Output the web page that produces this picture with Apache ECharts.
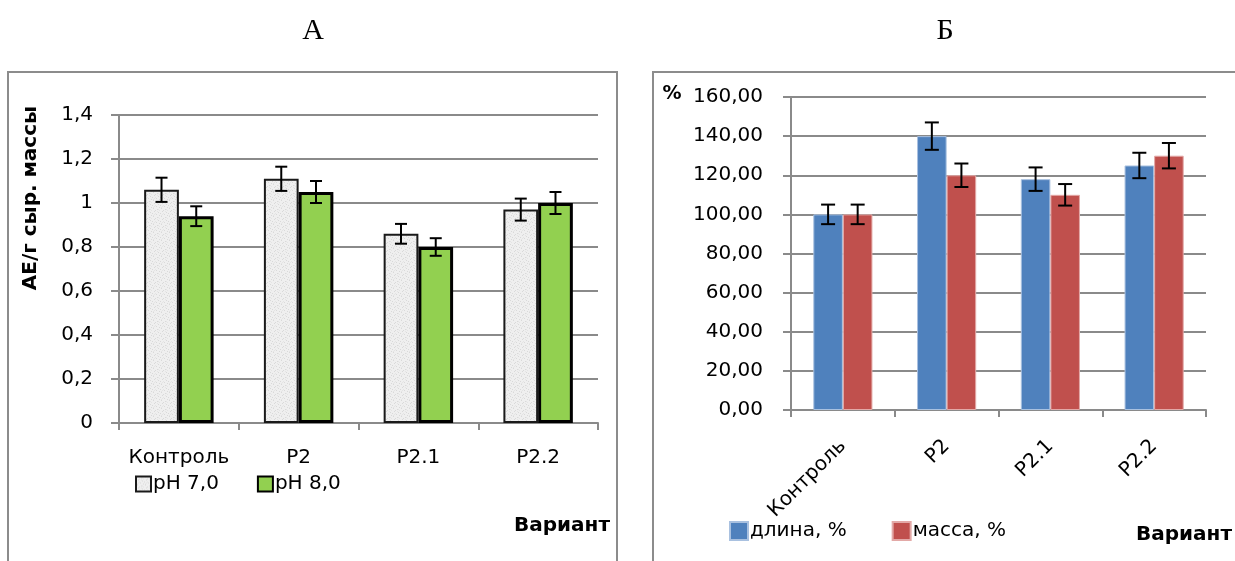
<!DOCTYPE html>
<html>
<head>
<meta charset="utf-8">
<script src="https://cdn.jsdelivr.net/npm/echarts@6/dist/echarts.min.js"></script>
<style>
  html, body { margin: 0; padding: 0; background: #fff; }
  #chart { width: 1235px; height: 561px; }
</style>
</head>
<body>
<div id="chart"></div>
<script>
// Panel A: enzyme activity per gram of raw mass at two pH values
const categoriesA = ['Контроль', 'P2', 'P2.1', 'P2.2'];
const ph7Values = [1.06, 1.11, 0.86, 0.97];
const ph7Errors = [0.055, 0.055, 0.045, 0.05];
const ph8Values = [0.94, 1.05, 0.80, 1.00];
const ph8Errors = [0.045, 0.05, 0.04, 0.05];
const seriesNamesA = ['pH 7,0', 'pH 8,0'];

// Panel B: seedling length and mass relative to control, %
const categoriesB = ['Контроль', 'P2', 'P2.1', 'P2.2'];
const lengthValues = [100, 140, 118, 125];
const lengthErrors = [5, 7, 6, 6.5];
const massValues = [100, 120, 110, 130];
const massErrors = [5, 6, 5.5, 6.5];
const seriesNamesB = ['длина, %', 'масса, %'];

const FONT = '"DejaVu Sans", "Open Sans", sans-serif';

// light mottled fill for the pH 7,0 bars
function mottledPattern() {
  const c = document.createElement('canvas');
  c.width = 8; c.height = 8;
  const g = c.getContext('2d');
  g.fillStyle = '#efefef';
  g.fillRect(0, 0, 8, 8);
  g.fillStyle = '#d9d9d9';
  const dots = [[1,0],[5,1],[2,3],[6,4],[0,5],[4,6],[7,7],[3,2]];
  dots.forEach(([x, y]) => g.fillRect(x, y, 1, 1));
  g.fillStyle = '#e4e4e4';
  [[3,5],[6,1],[1,7],[5,3],[7,2],[2,6]].forEach(([x, y]) => g.fillRect(x, y, 1, 1));
  return c;
}

// error bar drawn at the centre of a grouped bar
function errorBars(values, errors, xAxisIndex, yAxisIndex, groupIndex, gapRatio, capHalf, lineW) {
  return {
    type: 'custom',
    xAxisIndex, yAxisIndex,
    silent: true,
    z: 10,
    data: values.map((v, i) => [i, v - errors[i], v + errors[i]]),
    renderItem(params, api) {
      const band = api.size([1, 0])[0];
      const barW = band * (1 - gapRatio) / 2;
      const off = (groupIndex - 0.5) * barW;
      const lo = api.coord([api.value(0), api.value(1)]);
      const hi = api.coord([api.value(0), api.value(2)]);
      const x = lo[0] + off;
      const st = { stroke: '#000', lineWidth: lineW };
      return {
        type: 'group',
        children: [
          { type: 'line', shape: { x1: x, y1: lo[1], x2: x, y2: hi[1] }, style: st },
          { type: 'line', shape: { x1: x - capHalf, y1: lo[1], x2: x + capHalf, y2: lo[1] }, style: st },
          { type: 'line', shape: { x1: x - capHalf, y1: hi[1], x2: x + capHalf, y2: hi[1] }, style: st }
        ]
      };
    }
  };
}

const gridLine = { lineStyle: { color: '#8a8a8a', width: 2 } };
const axisLine = { lineStyle: { color: '#8a8a8a', width: 2 } };

const chart = echarts.init(document.getElementById('chart'), null, { renderer: 'canvas' });

const option = {
  animation: false,
  textStyle: { fontFamily: FONT },
  graphic: [
    { type: 'rect', shape: { x: 8, y: 72, width: 609, height: 520 }, style: { fill: 'none', stroke: '#8c8c8c', lineWidth: 2 }, z: -1 },
    { type: 'rect', shape: { x: 653, y: 72, width: 620, height: 520 }, style: { fill: 'none', stroke: '#8c8c8c', lineWidth: 2 }, z: -1 },
    { type: 'text', x: 313, y: 31, style: { text: 'А', font: '30px "Liberation Serif", serif', fill: '#000', textAlign: 'center', textVerticalAlign: 'middle' } },
    { type: 'text', x: 945, y: 31, style: { text: 'Б', font: '30px "Liberation Serif", serif', fill: '#000', textAlign: 'center', textVerticalAlign: 'middle' } },
    { type: 'text', x: 31, y: 198, rotation: Math.PI / 2, style: { text: 'AE/г сыр. массы', font: 'bold 20px ' + FONT, fill: '#000', textAlign: 'center', textVerticalAlign: 'middle' } },
    { type: 'text', x: 610, y: 526, style: { text: 'Вариант', font: 'bold 20px ' + FONT, fill: '#000', textAlign: 'right', textVerticalAlign: 'middle' } },
    { type: 'text', x: 1232, y: 535, style: { text: 'Вариант', font: 'bold 20px ' + FONT, fill: '#000', textAlign: 'right', textVerticalAlign: 'middle' } },
    { type: 'text', x: 672, y: 94, style: { text: '%', font: 'bold 19px ' + FONT, fill: '#000', textAlign: 'center', textVerticalAlign: 'middle' } }
  ],
  legend: [
    {
      data: seriesNamesA,
      left: 135, top: 474, padding: 0,
      itemWidth: 15, itemHeight: 15, itemGap: 38,
      textStyle: { fontSize: 20, color: '#000', fontFamily: FONT, padding: [0, 0, 0, -3] },
      icon: 'rect'
    },
    {
      data: seriesNamesB,
      left: 729, top: 521, padding: 0,
      itemWidth: 18, itemHeight: 18, itemGap: 45,
      textStyle: { fontSize: 20, color: '#000', fontFamily: FONT, padding: [0, 0, 0, -3] },
      icon: 'rect'
    }
  ],
  grid: [
    { left: 119, right: 1235 - 598, top: 115, bottom: 561 - 423 },
    { left: 791, right: 1235 - 1206, top: 97, bottom: 561 - 410 }
  ],
  xAxis: [
    {
      type: 'category', gridIndex: 0, data: categoriesA,
      axisLine, axisTick: { show: true, length: 7, lineStyle: { color: '#8a8a8a', width: 2 } },
      axisLabel: { fontSize: 20, color: '#000', margin: 25, interval: 0, fontFamily: FONT }
    },
    {
      type: 'category', gridIndex: 1, data: categoriesB,
      axisLine, axisTick: { show: true, length: 7, lineStyle: { color: '#8a8a8a', width: 2 } },
      axisLabel: { fontSize: 20, color: '#000', margin: 33, rotate: 45, interval: 0, fontFamily: FONT }
    }
  ],
  yAxis: [
    {
      type: 'value', gridIndex: 0, min: 0, max: 1.4, interval: 0.2,
      axisLine: { show: true, lineStyle: { color: '#8a8a8a', width: 2 } },
      axisTick: { show: true, length: 8, lineStyle: { color: '#8a8a8a', width: 2 } },
      splitLine: gridLine,
      axisLabel: { fontSize: 20, color: '#000', margin: 26, fontFamily: FONT,
        formatter: v => String(Math.round(v * 10) / 10).replace('.', ',') }
    },
    {
      type: 'value', gridIndex: 1, min: 0, max: 160, interval: 20,
      axisLine: { show: true, lineStyle: { color: '#8a8a8a', width: 2 } },
      axisTick: { show: true, length: 8, lineStyle: { color: '#8a8a8a', width: 2 } },
      splitLine: gridLine,
      axisLabel: { fontSize: 20, color: '#000', margin: 28, fontFamily: FONT,
        formatter: v => v.toFixed(2).replace('.', ',') }
    }
  ],
  series: [
    {
      name: seriesNamesA[0], type: 'bar', xAxisIndex: 0, yAxisIndex: 0,
      data: ph7Values, barGap: '0%', barCategoryGap: '42%',
      itemStyle: { color: { image: mottledPattern(), repeat: 'repeat' }, borderColor: '#1a1a1a', borderWidth: 2 }
    },
    {
      name: seriesNamesA[1], type: 'bar', xAxisIndex: 0, yAxisIndex: 0,
      data: ph8Values, barGap: '0%', barCategoryGap: '42%',
      itemStyle: { color: '#92d050', borderColor: '#000', borderWidth: 3 }
    },
    errorBars(ph7Values, ph7Errors, 0, 0, 0, 0.42, 6, 2),
    errorBars(ph8Values, ph8Errors, 0, 0, 1, 0.42, 6, 2),
    {
      name: seriesNamesB[0], type: 'bar', xAxisIndex: 1, yAxisIndex: 1,
      data: lengthValues, barGap: '0%', barCategoryGap: '43%',
      itemStyle: { color: '#4f81bd', borderColor: '#a9c1e0', borderWidth: 1 }
    },
    {
      name: seriesNamesB[1], type: 'bar', xAxisIndex: 1, yAxisIndex: 1,
      data: massValues, barGap: '0%', barCategoryGap: '43%',
      itemStyle: { color: '#c0504d', borderColor: '#e3a9a7', borderWidth: 1 }
    },
    errorBars(lengthValues, lengthErrors, 1, 1, 0, 0.43, 7, 2),
    errorBars(massValues, massErrors, 1, 1, 1, 0.43, 7, 2)
  ]
};

chart.setOption(option);
</script>
</body>
</html>
